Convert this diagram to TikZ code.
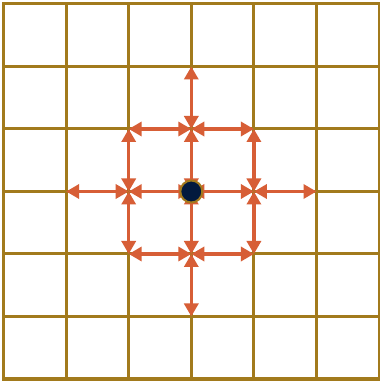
\documentclass[tikz,border=0pt]{standalone}
\usetikzlibrary{arrows.meta}
\definecolor{gridc}{HTML}{A27A1C}
\definecolor{arrc}{HTML}{D75E36}
\definecolor{dotc}{HTML}{021A3E}
\tikzset{
  gridline/.style={draw=gridc, line width=3pt},
  link/.style={draw=arrc, line width=3.4pt, {Triangle[length=13pt,width=14pt]}-{Triangle[length=13pt,width=14pt]}},
  centerdot/.style={circle, fill=dotc, draw=gridc, line width=2pt, minimum size=22pt, inner sep=0pt}
}
\begin{document}
\begin{tikzpicture}[x=1pt,y=1pt]
\useasboundingbox (0,0) rectangle (380,381);
\fill[white] (0,0) rectangle (380,381);
% grid
\foreach \i in {0,...,6}{
  \pgfmathsetmacro{\gx}{3.5+62.6*\i}
  \pgfmathsetmacro{\gy}{381-(4+62.5*\i)}
  \draw[gridline] (\gx,3) -- (\gx,378);
  \draw[gridline] (2,\gy) -- (380,\gy);
}
% grid points
\foreach \i in {0,...,6}{
  \foreach \j in {0,...,6}{
    \pgfmathsetmacro{\gx}{3.5+62.6*\i}
    \pgfmathsetmacro{\gy}{381-(4+62.5*\j)}
    \coordinate (p\i\j) at (\gx,\gy);
  }
}
% square ring
\draw[link] (p22) -- (p32);
\draw[link] (p32) -- (p42);
\draw[link] (p42) -- (p43);
\draw[link] (p43) -- (p44);
\draw[link] (p44) -- (p34);
\draw[link] (p34) -- (p24);
\draw[link] (p24) -- (p23);
\draw[link] (p23) -- (p22);
% outer spokes
\draw[link] (p32) -- (p31);
\draw[link] (p23) -- (p13);
\draw[link] (p43) -- (p53);
\draw[link] (p34) -- (p35);
% inner spokes
\draw[link] (p33) -- (p32);
\draw[link] (p33) -- (p23);
\draw[link] (p33) -- (p43);
\draw[link] (p33) -- (p34);
\node[centerdot] (c) at (p33) {};
\end{tikzpicture}
\end{document}
